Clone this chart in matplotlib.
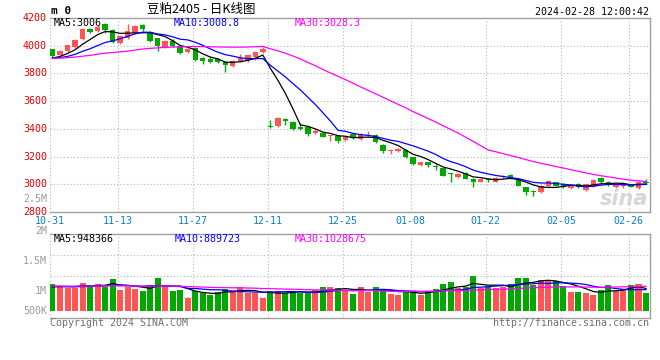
import numpy as np
import pandas as pd
import matplotlib
matplotlib.use('Agg')
import matplotlib.pyplot as plt

# ----------------------------------------------------------------
# Data (soybean meal 2405, daily, 10-31 .. 02-28)

opn = [3973, 3935, 3962, 3992, 4045, 4120, 4104, 4158, 4112, 4022,
       4055, 4094, 4150, 4102, 4053, 3988, 4032, 3995, 3952, 3983,
       3912, 3906, 3904, 3885, 3852, 3887, 3895, 3922, 3954, 3422,
       3420, 3473, 3451, 3410, 3410, 3372, 3369, 3348, 3352, 3316,
       3362, 3330, 3345, 3357, 3285, 3238, 3237, 3249, 3194, 3141,
       3158, 3134, 3115, 3078, 3052, 3081, 3040, 3020, 3035, 3020,
       3052, 3068, 3040, 2977, 2946, 2944, 2989, 3015, 3001, 2972,
       3001, 2960, 2984, 3045, 3020, 2984, 2987, 2996, 2972, 3020]
high = [3978, 3968, 4008, 4048, 4128, 4126, 4148, 4165, 4118, 4080,
        4157, 4150, 4155, 4108, 4058, 4040, 4045, 4000, 3985, 3988,
        3918, 3915, 3910, 3890, 3898, 3942, 3935, 3958, 3990, 3466,
        3482, 3480, 3458, 3440, 3412, 3398, 3372, 3358, 3356, 3345,
        3368, 3368, 3381, 3362, 3288, 3252, 3262, 3255, 3198, 3162,
        3162, 3148, 3118, 3085, 3080, 3088, 3045, 3042, 3045, 3050,
        3068, 3075, 3045, 2982, 2960, 2993, 3030, 3020, 3010, 2996,
        3008, 3005, 3036, 3050, 3024, 3004, 2996, 3000, 3024, 3035]
low = [3913, 3930, 3958, 3985, 4040, 4090, 4100, 4092, 4022, 4015,
       4050, 4088, 4105, 4030, 3962, 3980, 3988, 3938, 3945, 3892,
       3870, 3872, 3872, 3812, 3848, 3882, 3885, 3895, 3950, 3408,
       3410, 3430, 3395, 3390, 3350, 3365, 3338, 3310, 3300, 3310,
       3325, 3320, 3340, 3298, 3225, 3215, 3232, 3190, 3142, 3130,
       3125, 3100, 3060, 3020, 3048, 3035, 2984, 3015, 3020, 3015,
       3048, 3035, 2988, 2924, 2917, 2940, 2985, 2985, 2970, 2968,
       2972, 2955, 2980, 3012, 2990, 2970, 2972, 2978, 2968, 3002]
cls = [3925, 3962, 4002, 4043, 4120, 4097, 4135, 4116, 4030, 4068,
       4105, 4142, 4120, 4036, 3998, 4032, 3995, 3945, 3978, 3899,
       3890, 3880, 3880, 3858, 3892, 3912, 3930, 3952, 3978, 3414,
       3478, 3455, 3400, 3396, 3362, 3384, 3341, 3352, 3314, 3341,
       3332, 3357, 3357, 3302, 3237, 3248, 3256, 3194, 3146, 3158,
       3136, 3122, 3063, 3074, 3076, 3040, 3013, 3038, 3028, 3045,
       3063, 3040, 2991, 2941, 2942, 2989, 3025, 2989, 2977, 2991,
       2977, 3001, 3032, 3016, 2996, 2996, 2991, 2982, 3020, 3008]
# volume, thousand lots
vol = [1131, 1048, 976, 976, 1173, 1089, 1131, 1018, 1341, 880,
       1018, 922, 838, 1089, 1383, 1048, 838, 880, 557, 851,
       767, 670, 809, 909, 880, 993, 742, 742, 557, 851,
       851, 767, 851, 742, 742, 880, 993, 993, 951, 880,
       700, 993, 809, 993, 880, 700, 670, 838, 838, 670,
       838, 909, 1131, 1228, 951, 993, 1467, 951, 1048, 951,
       993, 1131, 1395, 1395, 1089, 1299, 1257, 1257, 1048, 809,
       809, 742, 670, 880, 1089, 851, 909, 1089, 1131, 742]

# closes / volumes before 10-31, only needed to start the moving averages
pre_close = [3890, 3905, 3920, 3935, 3910, 3895, 3880, 3900, 3925, 3940,
             3915, 3895, 3885, 3900, 3920, 3930, 3915, 3900, 3890, 3905,
             3920, 3910, 3895, 3900, 3915, 3905, 3895, 3910, 3920]
pre_vol = [1050, 1080, 1020, 990, 1100, 1060, 1040, 1010, 1120, 1070,
           1030, 1000, 1090, 1060, 1050, 1110, 1040, 1020, 1080, 1060,
           1070, 1030, 1050, 1090, 1010, 960, 1000, 980, 970]

tick_idx = [0, 9, 19, 29, 39, 48, 58, 68, 77]
tick_lab = ['10-31', '11-13', '11-27', '12-11', '12-25',
            '01-08', '01-22', '02-05', '02-26']
price_ticks = [2800, 3000, 3200, 3400, 3600, 3800, 4000, 4200]

# ----------------------------------------------------------------
# derived

o = np.array(opn); c = np.array(cls)
h = np.array(high); l = np.array(low)
v = np.array(vol) * 1000.0
x = np.arange(len(c))

RED = '#ff5555'
GREEN = '#00a800'
col = np.where(c >= o, RED, GREEN)

def mav(pre, cur, n):
    s = pd.Series(list(pre) + list(cur), dtype=float)
    return s.rolling(n).mean().values[len(pre):]

ma_p = {n: mav(pre_close, cls, n) for n in (5, 10, 30)}
ma_v = {n: mav(np.array(pre_vol) * 1000.0, v, n) for n in (5, 10, 30)}
ma_col = {5: 'black', 10: '#0000ff', 30: '#ff00ff'}

# ----------------------------------------------------------------
# layout, in pixels of a 660x360 picture

W, H = 660, 360
MONO = ['DejaVu Sans Mono']
GRID = dict(color='#b4b4b4', lw=0.8, ls=(0, (1, 2)), zorder=0)
FRAME = '#a0a0a0'

fig = plt.figure(figsize=(6.6, 3.6), dpi=100)
fig.set_facecolor('white')

def fx(px):
    return px / W

def fy(py):
    return 1 - py / H

axp = fig.add_axes([fx(50), fy(212), 600 / W, 194 / H])
axv = fig.add_axes([fx(50), fy(318), 600 / W, 84 / H])

xlo, xhi = -0.33, 79.53
vlo, vhi = -293e3, 3226e3

for ax in (axp, axv):
    ax.set_xlim(xlo, xhi)
    ax.set_xticks([])
    ax.set_yticks([])
    for s in ('top', 'right', 'bottom'):
        ax.spines[s].set_color(FRAME)
        ax.spines[s].set_linewidth(1.0)
    ax.spines['left'].set_visible(False)
    for i in tick_idx:
        ax.axvline(i - 0.33, **GRID)

# ---- price panel
axp.set_ylim(2800, 4200)
for p in price_ticks[1:-1]:
    axp.axhline(p, **GRID)

fig.text(fx(648), fy(209), 'sina', ha='right', va='bottom', fontsize=15,
         style='italic', weight='bold', color='#d6d6d6', zorder=1)

axp.vlines(x, l, h, color=col, lw=1.0, zorder=2)
axp.bar(x, np.maximum(np.abs(c - o), 7), bottom=np.minimum(o, c), width=0.72,
        color=col, lw=0, zorder=3)
for n in (5, 10, 30):
    axp.plot(x, ma_p[n], color=ma_col[n], lw=0.9, zorder=4)

for p in price_ticks:
    py = 212 - (p - 2800) / 1400 * 194
    fig.text(fx(47), fy(py), str(p), ha='right', va='center',
             fontsize=7.2, color='#e00000', family=MONO)

fig.text(fx(54), fy(23.5), 'MA5:3006', fontsize=7.2, color='black',
         family=MONO, va='center')
fig.text(fx(174), fy(23.5), 'MA10:3008.8', fontsize=7.2, color='#0000ff',
         family=MONO, va='center')
fig.text(fx(295), fy(23.5), 'MA30:3028.3', fontsize=7.2, color='#ff00ff',
         family=MONO, va='center')

# ---- volume panel
axv.set_ylim(vlo, vhi)
for f in (0.25, 0.5, 0.75):
    axv.axhline(vlo + f * (vhi - vlo), **GRID)

axv.bar(x, v, width=0.8, color=col, lw=0, zorder=2)
for n in (5, 10, 30):
    axv.plot(x, ma_v[n], color=ma_col[n], lw=0.9, zorder=3)

vol_lab = [('2.5M', 199), ('2M', 231), ('1.5M', 261), ('1M', 291), ('500K', 311)]
for t, py in vol_lab:
    fig.text(fx(47), fy(py), t, ha='right', va='center', fontsize=7.2,
             color='#9a9a9a', family=MONO)

fig.text(fx(54), fy(238.5), 'MA5:948366', fontsize=7.2, color='black',
         family=MONO, va='center')
fig.text(fx(175), fy(238.5), 'MA10:889723', fontsize=7.2, color='#0000ff',
         family=MONO, va='center')
fig.text(fx(295), fy(238.5), 'MA30:1028675', fontsize=7.2, color='#ff00ff',
         family=MONO, va='center')

# ---- date labels
for i, t in zip(tick_idx, tick_lab):
    xp = 50 + (i - 0.33 - xlo) / (xhi - xlo) * 600
    fig.text(fx(xp), fy(221.5), t, ha='center', va='center', fontsize=7.2,
             color='#0a7fc4', family=MONO)

# ---- header / footer
fig.text(fx(51), fy(11.5), 'm 0', fontsize=8, weight='bold', color='black',
         family=MONO, va='center')
fig.text(fx(201), fy(9.5), '豆粕2405 - 日K线图', ha='center', va='center',
         fontsize=9, color='black', family=['Noto Sans CJK SC', 'DejaVu Sans'])
fig.text(fx(649), fy(12), '2024-02-28 12:00:42', ha='right', va='center',
         fontsize=7.2, color='black', family=MONO)
fig.text(fx(50), fy(323.5), 'Copyright 2024 SINA.COM', ha='left', va='center',
         fontsize=7.2, color='#707070', family=MONO)
fig.text(fx(649), fy(323.5), 'http://finance.sina.com.cn', ha='right',
         va='center', fontsize=7.2, color='#707070', family=MONO)

fig.savefig('out.png', dpi=100)
